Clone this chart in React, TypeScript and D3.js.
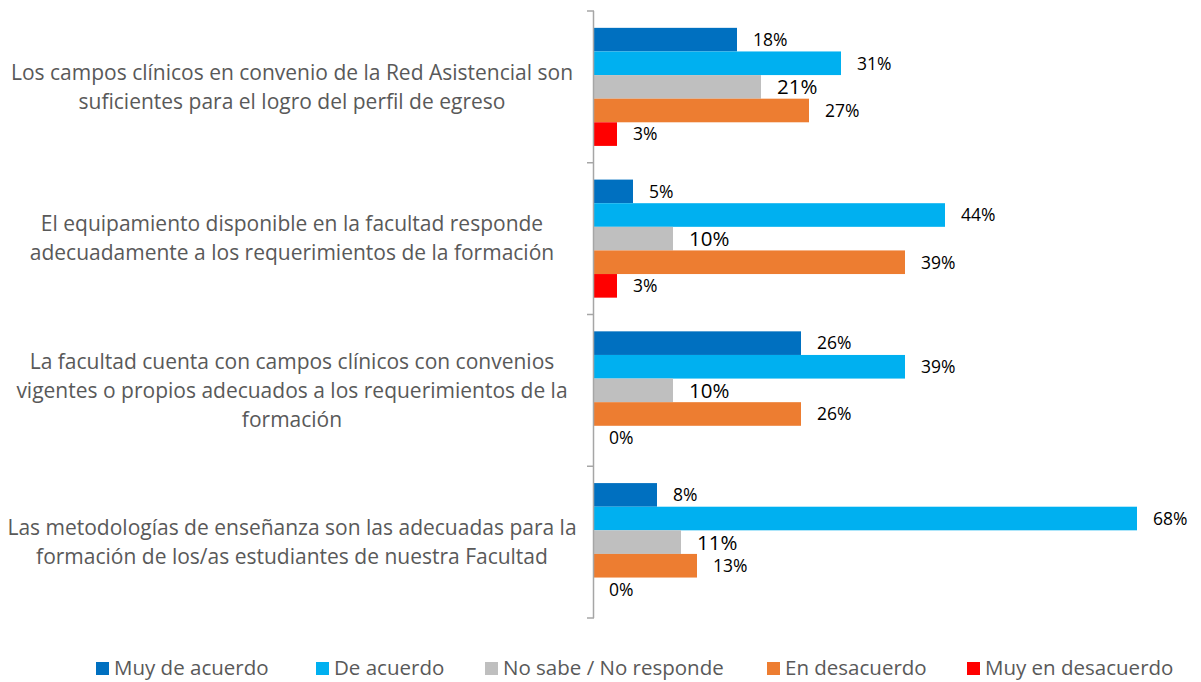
import React from "react";
import * as d3 from "d3";

const categories: string[][] = [
  ["Los campos clínicos en convenio de la Red Asistencial son", "suficientes para el logro del perfil de egreso"],
  ["El equipamiento disponible en la facultad responde", "adecuadamente a los requerimientos de la formación"],
  ["La facultad cuenta con campos clínicos con convenios", "vigentes o propios adecuados a los requerimientos de la", "formación"],
  ["Las metodologías de enseñanza son las adecuadas para la", "formación de los/as estudiantes de nuestra Facultad"],
];
const seriesNames = ["Muy de acuerdo", "De acuerdo", "No sabe / No responde", "En desacuerdo", "Muy en desacuerdo"];
const seriesColors = ["#0070C0", "#00B0F0", "#BFBFBF", "#ED7D31", "#FF0000"];
const muyDeAcuerdo = [18, 5, 26, 8];
const deAcuerdo = [31, 44, 39, 68];
const noSabe = [21, 10, 10, 11];
const enDesacuerdo = [27, 39, 26, 13];
const muyEnDesacuerdo = [3, 3, 0, 0];
const seriesValues = [muyDeAcuerdo, deAcuerdo, noSabe, enDesacuerdo, muyEnDesacuerdo];

const W = 1201;
const H = 682;
const FONT = "'Open Sans', 'Noto Sans', sans-serif";

export default function App() {
  const idx = categories.map((_, i) => String(i));
  const y0 = d3.scaleBand<string>().domain(idx).range([11, 618]).paddingInner(0.222).paddingOuter(0.111);
  const y1 = d3.scaleBand<string>().domain(seriesNames).range([0, y0.bandwidth()]);
  const x = d3.scaleLinear().domain([0, 100]).range([594, 1394]);
  const step = y0.step();
  const ticks = d3.range(categories.length + 1).map((i) => 11 + i * step);

  const legendX = [96, 316, 485, 767, 967];

  return (
    <svg width={W} height={H} style={{ position: "absolute", left: 0, top: 0, background: "#fff" }} fontFamily={FONT}>
      {categories.map((_, ci) => (
        <g key={ci} transform={`translate(0,${y0(String(ci))})`}>
          {seriesNames.map((s, si) => {
            const v = seriesValues[si][ci];
            const yy = y1(s)!;
            const bh = y1.bandwidth();
            const big = si === 2;
            return (
              <g key={s}>
                {v > 0 && (
                  <rect x={x(0)} y={yy} width={x(v) - x(0) - 1} height={bh} fill={seriesColors[si]} />
                )}
                <text x={x(v) + 15} y={yy + bh / 2} dy="0.36em" fontSize={big ? 20.5 : 17.5} fill="#000">
                  {v}%
                </text>
              </g>
            );
          })}
        </g>
      ))}
      <line x1={593.5} x2={593.5} y1={ticks[0]} y2={ticks[ticks.length - 1]} stroke="#A6A6A6" strokeWidth={1.5} />
      {ticks.map((t, i) => (
        <line key={i} x1={587} x2={594} y1={t} y2={t} stroke="#A6A6A6" strokeWidth={1.5} />
      ))}
      {categories.map((lines, ci) => {
        const c = y0(String(ci))! + y0.bandwidth() / 2;
        const lh = 29;
        const start = c - ((lines.length - 1) * lh) / 2;
        return (
          <text key={ci} x={292} textAnchor="middle" fontSize={21} fill="#595959">
            {lines.map((l, li) => (
              <tspan key={li} x={292} y={start + li * lh} dy="0.35em">
                {l}
              </tspan>
            ))}
          </text>
        );
      })}
      {seriesNames.map((s, i) => (
        <g key={s}>
          <rect x={legendX[i]} y={662} width={13} height={13} fill={seriesColors[i]} />
          <text x={legendX[i] + 18} y={668} dy="0.36em" fontSize={20.5} fill="#595959">
            {s}
          </text>
        </g>
      ))}
    </svg>
  );
}
